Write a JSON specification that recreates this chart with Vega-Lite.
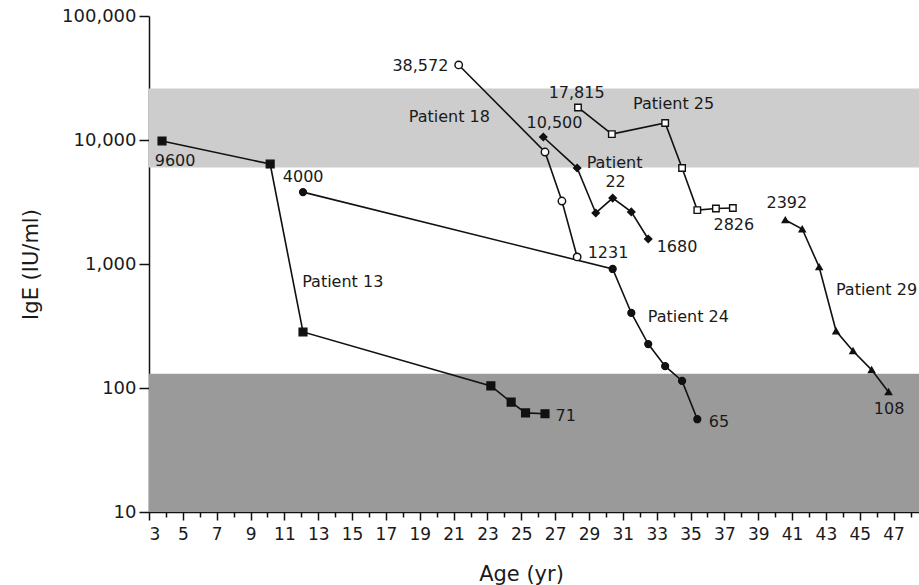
{
  "$schema": "https://vega.github.io/schema/vega-lite/v6.json",
  "width": 770,
  "height": 496,
  "autosize": {"type": "none"},
  "padding": {"left": 149, "top": 16, "right": 0, "bottom": 73},
  "background": "white",
  "config": {
    "view": {"stroke": null},
    "font": "DejaVu Sans",
    "axis": {"grid": false, "domainColor": "#111", "tickColor": "#111", "labelColor": "#1a1a1a", "titleColor": "#1a1a1a", "labelFont": "DejaVu Sans", "titleFont": "DejaVu Sans", "titleFontWeight": "normal", "domainWidth": 1.5, "tickWidth": 1.5}
  },
  "datasets": {
    "bands": [
      {"band": "low", "lo": 10, "hi": 130},
      {"band": "high", "lo": 6000, "hi": 26000}
    ],
    "series": [
      {"patient": "13", "age": 3.77, "ige": 9820},
      {"patient": "13", "age": 10.16, "ige": 6400},
      {"patient": "13", "age": 12.1, "ige": 283},
      {"patient": "13", "age": 23.2, "ige": 104},
      {"patient": "13", "age": 24.4, "ige": 77},
      {"patient": "13", "age": 25.25, "ige": 63},
      {"patient": "13", "age": 26.4, "ige": 62},
      {"patient": "24", "age": 12.1, "ige": 3800},
      {"patient": "24", "age": 30.4, "ige": 912},
      {"patient": "24", "age": 31.5, "ige": 403},
      {"patient": "24", "age": 32.5, "ige": 226},
      {"patient": "24", "age": 33.5, "ige": 150},
      {"patient": "24", "age": 34.5, "ige": 114},
      {"patient": "24", "age": 35.4, "ige": 56},
      {"patient": "18", "age": 21.3, "ige": 40300},
      {"patient": "18", "age": 26.4, "ige": 8000},
      {"patient": "18", "age": 27.4, "ige": 3220},
      {"patient": "18", "age": 28.3, "ige": 1140},
      {"patient": "22", "age": 26.3, "ige": 10570},
      {"patient": "22", "age": 28.3, "ige": 5940},
      {"patient": "22", "age": 29.4, "ige": 2580},
      {"patient": "22", "age": 30.4, "ige": 3400},
      {"patient": "22", "age": 31.5, "ige": 2630},
      {"patient": "22", "age": 32.5, "ige": 1590},
      {"patient": "25", "age": 28.35, "ige": 18300},
      {"patient": "25", "age": 30.35, "ige": 11160},
      {"patient": "25", "age": 33.5, "ige": 13700},
      {"patient": "25", "age": 34.5, "ige": 5940},
      {"patient": "25", "age": 35.4, "ige": 2720},
      {"patient": "25", "age": 36.5, "ige": 2800},
      {"patient": "25", "age": 37.5, "ige": 2830},
      {"patient": "29", "age": 40.6, "ige": 2265},
      {"patient": "29", "age": 41.6, "ige": 1915},
      {"patient": "29", "age": 42.6, "ige": 946},
      {"patient": "29", "age": 43.6, "ige": 288},
      {"patient": "29", "age": 44.6, "ige": 199},
      {"patient": "29", "age": 45.7, "ige": 140},
      {"patient": "29", "age": 46.7, "ige": 93}
    ],
    "labelsCenter": [
      {"text": "9600", "age": 4.54, "ige": 6780},
      {"text": "4000", "age": 12.11, "ige": 5040},
      {"text": "Patient 18", "age": 20.75, "ige": 15300},
      {"text": "10,500", "age": 26.96, "ige": 13700},
      {"text": "17,815", "age": 28.27, "ige": 23900},
      {"text": "Patient 25", "age": 34.0, "ige": 19500},
      {"text": "Patient", "age": 30.51, "ige": 6530},
      {"text": "22", "age": 30.57, "ige": 4580},
      {"text": "2826", "age": 37.56, "ige": 2065},
      {"text": "2392", "age": 40.69, "ige": 3100},
      {"text": "108", "age": 46.73, "ige": 67.8}
    ],
    "labelsLeft": [
      {"text": "Patient 13", "age": 12.05, "ige": 716},
      {"text": "71", "age": 27.02, "ige": 59.4},
      {"text": "1680", "age": 33.0, "ige": 1370},
      {"text": "1231", "age": 28.92, "ige": 1227},
      {"text": "Patient 24", "age": 32.47, "ige": 374},
      {"text": "Patient 29", "age": 43.59, "ige": 617},
      {"text": "65", "age": 36.08, "ige": 53.2}
    ],
    "labelsRight": [
      {"text": "38,572", "age": 20.69, "ige": 39500}
    ]
  },
  "resolve": {"axis": {"x": "independent"}},
  "layer": [
    {
      "data": {"name": "bands"},
      "mark": {"type": "rect"},
      "encoding": {
        "x": {"datum": 3, "type": "quantitative", "scale": {"domain": [3, 48.5], "nice": false, "zero": false},
              "axis": {"orient": "bottom", "values": [4,6,8,10,12,14,16,18,20,22,24,26,28,30,32,34,36,38,40,42,44,46,48], "labels": false, "domain": false, "tickSize": 5, "title": null}},
        "x2": {"datum": 48.5},
        "y": {"field": "lo", "type": "quantitative", "scale": {"type": "log", "domain": [10, 100000], "nice": false},
              "axis": {"values": [10, 100, 1000, 10000, 100000], "format": ",d", "tickSize": 10, "labelPadding": 3, "labelFontSize": 18, "title": "IgE (IU/ml)", "titleFontSize": 21, "titlePadding": 20}},
        "y2": {"field": "hi"},
        "color": {"field": "band", "type": "nominal", "scale": {"domain": ["low", "high"], "range": ["#9a9a9a", "#cdcdcd"]}, "legend": null}
      }
    },
    {
      "data": {"name": "series"},
      "mark": {"type": "line", "color": "#111", "strokeWidth": 1.6},
      "encoding": {
        "x": {"field": "age", "type": "quantitative",
              "axis": {"orient": "bottom", "values": [3,5,7,9,11,13,15,17,19,21,23,25,27,29,31,33,35,37,39,41,43,45,47], "tickSize": 8, "labelPadding": 6, "labelFontSize": 17, "title": "Age (yr)", "titleFontSize": 21, "titlePadding": 21, "titleX": 372}},
        "y": {"field": "ige", "type": "quantitative"},
        "detail": {"field": "patient", "type": "nominal"}
      }
    },
    {
      "data": {"name": "series"},
      "mark": {"type": "point", "stroke": "#111", "strokeWidth": 1.4, "opacity": 1},
      "encoding": {
        "x": {"field": "age", "type": "quantitative", "axis": null},
        "y": {"field": "ige", "type": "quantitative"},
        "shape": {"field": "patient", "type": "nominal", "scale": {"domain": ["13", "18", "22", "24", "25", "29"], "range": ["square", "circle", "diamond", "circle", "square", "triangle-up"]}, "legend": null},
        "fill": {"field": "patient", "type": "nominal", "scale": {"domain": ["13", "18", "22", "24", "25", "29"], "range": ["#111", "white", "#111", "#111", "white", "#111"]}, "legend": null},
        "size": {"field": "patient", "type": "nominal", "scale": {"domain": ["13", "18", "22", "24", "25", "29"], "range": [60, 38, 55, 50, 60, 65]}, "legend": null}
      }
    },
    {
      "data": {"name": "labelsCenter"},
      "mark": {"type": "text", "align": "center", "baseline": "middle", "fontSize": 16, "color": "#1a1a1a"},
      "encoding": {
        "x": {"field": "age", "type": "quantitative", "axis": null},
        "y": {"field": "ige", "type": "quantitative"},
        "text": {"field": "text"}
      }
    },
    {
      "data": {"name": "labelsLeft"},
      "mark": {"type": "text", "align": "left", "baseline": "middle", "fontSize": 16, "color": "#1a1a1a"},
      "encoding": {
        "x": {"field": "age", "type": "quantitative", "axis": null},
        "y": {"field": "ige", "type": "quantitative"},
        "text": {"field": "text"}
      }
    },
    {
      "data": {"name": "labelsRight"},
      "mark": {"type": "text", "align": "right", "baseline": "middle", "fontSize": 16, "color": "#1a1a1a"},
      "encoding": {
        "x": {"field": "age", "type": "quantitative", "axis": null},
        "y": {"field": "ige", "type": "quantitative"},
        "text": {"field": "text"}
      }
    }
  ]
}
